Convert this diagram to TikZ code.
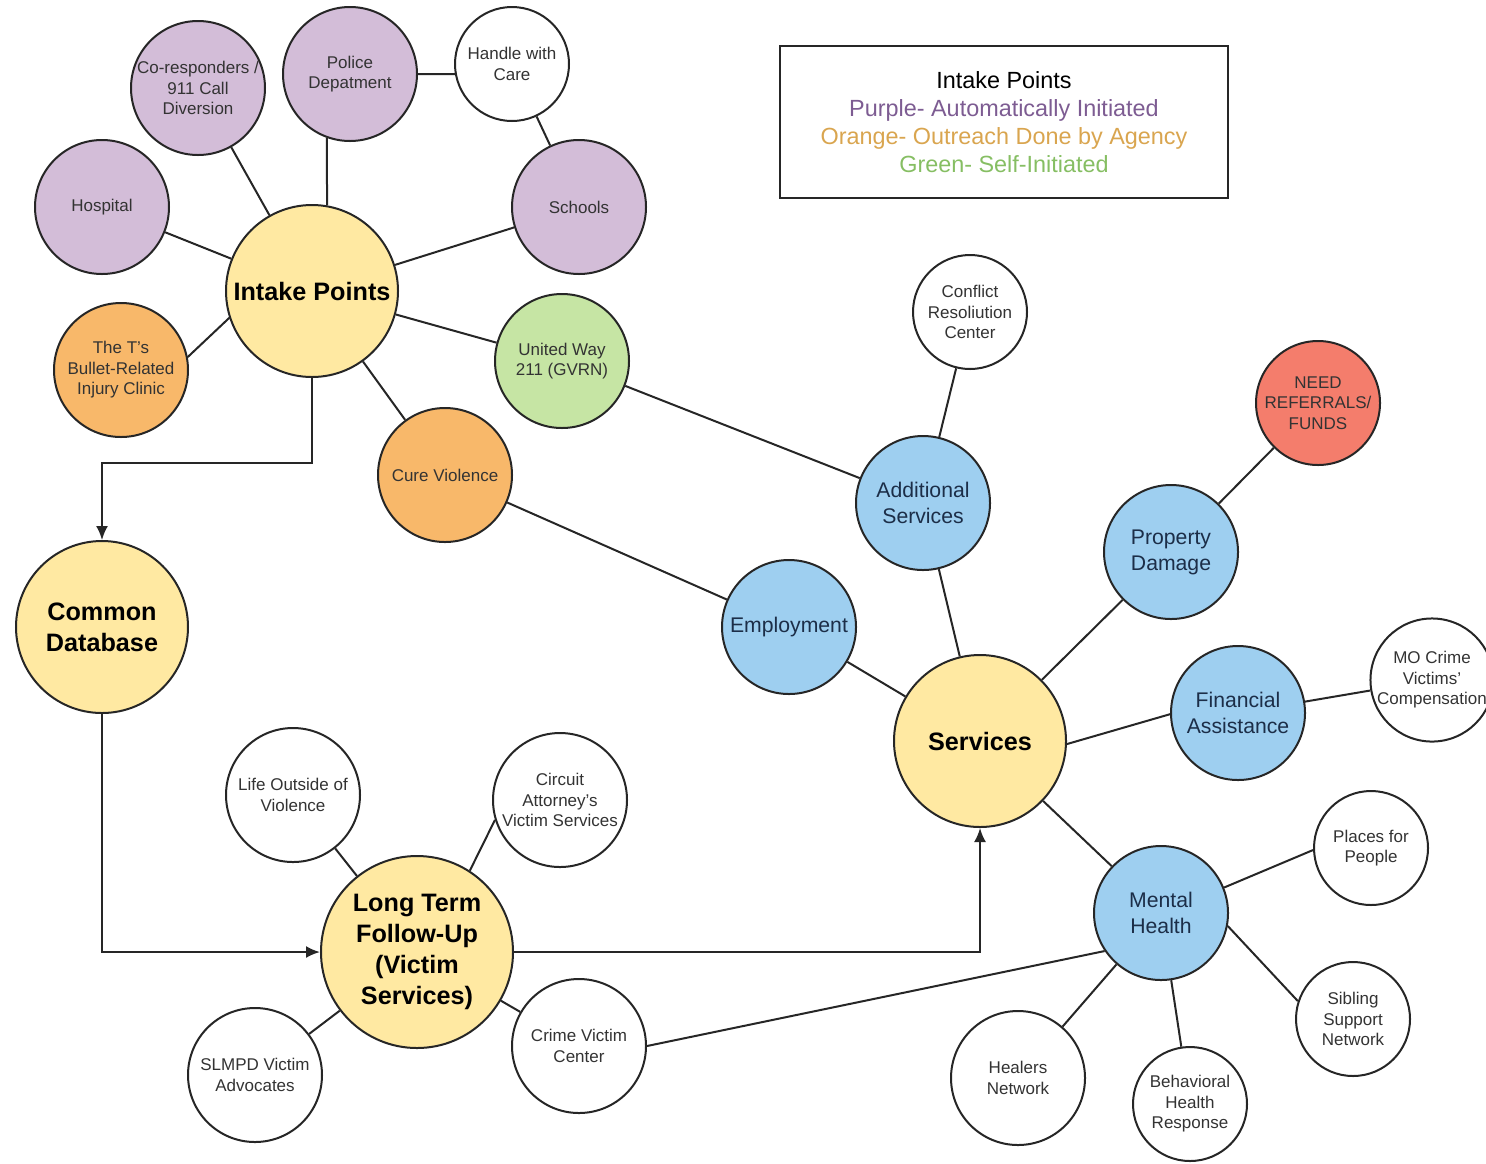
\documentclass[tikz,border=0pt]{standalone}
\usepackage{fontspec}
\setmainfont{Liberation Sans}
\usetikzlibrary{arrows.meta}
\definecolor{purpfill}{HTML}{D3BDD8}
\definecolor{yelfill}{HTML}{FFE9A2}
\definecolor{orngfill}{HTML}{F8B86A}
\definecolor{grnfill}{HTML}{C6E5A4}
\definecolor{blufill}{HTML}{9ECFF0}
\definecolor{redfill}{HTML}{F47D6C}
\definecolor{navytext}{HTML}{1C2E48}
\definecolor{purptext}{HTML}{7D5C92}
\definecolor{orngtext}{HTML}{D9A54F}
\definecolor{grntext}{HTML}{86BE63}

\begin{document}
\begin{tikzpicture}[x=0.5pt,y=-0.5pt,
  bub/.style={circle,draw=black!85,line width=1pt,align=center,inner sep=0pt,
    text=black!80,font=\fontsize{8.5}{10.25}\selectfont},
  sml/.style={bub,minimum size=67pt},
  tny/.style={bub,minimum size=57pt,fill=white},
  purp/.style={sml,fill=purpfill},
  orng/.style={sml,fill=orngfill},
  grn/.style={sml,fill=grnfill},
  wht/.style={sml,fill=white},
  redbub/.style={bub,minimum size=62pt,fill=redfill},
  med/.style={bub,minimum size=67pt,fill=blufill,text=navytext,
    font=\fontsize{10.6}{13}\selectfont},
  hub/.style={bub,minimum size=86pt,fill=yelfill,text=black,
    font=\fontsize{12.6}{15.5}\selectfont\bfseries},
  link/.style={line width=1pt,black!85},
  flow/.style={link,-{Latex[length=7pt,width=6pt]}}]
\useasboundingbox (0,0) rectangle (1486,1163);

% intake side
\node[hub] (intake) at (312,291) {Intake Points};
\node[purp] (coresp) at (198,88) {Co-responders /\\911 Call\\Diversion};
\node[purp] (police) at (350,74) {Police\\Depatment};
\node[tny] (hwc) at (512,64) {Handle with\\Care};
\node[purp] (hosp) at (102,207) {Hospital};
\node[purp] (schools) at (579,207) {Schools};
\node[orng] (tclinic) at (121,370) {The T's\\Bullet-Related\\Injury Clinic};
\node[grn] (uway) at (562,361) {United Way\\211 (GVRN)};
\node[orng] (cure) at (445,475) {Cure Violence};

% legend
\node[draw=black!85,line width=1pt,minimum width=224pt,minimum height=76pt,
  align=center,font=\fontsize{11.7}{14}\selectfont] (key) at (1004,122)
  {Intake Points\\
   \textcolor{purptext}{Purple- Automatically Initiated}\\
   \textcolor{orngtext}{Orange- Outreach Done by Agency}\\
   \textcolor{grntext}{Green- Self-Initiated}};

% services side
\node[hub] (serv) at (980,741) {Services};
\node[tny] (conflict) at (970,312) {Conflict\\Resoliution\\Center};
\node[med] (addl) at (923,503) {Additional\\Services};
\node[redbub] (need) at (1318,403) {NEED\\REFERRALS/\\FUNDS};
\node[med] (prop) at (1171,552) {Property\\Damage};
\node[med] (employ) at (789,627) {Employment};
\node[med] (fin) at (1238,713) {Financial\\Assistance};
\node[tny] (mocv) at (1432,680) {MO Crime\\Victims'\\Compensation};
\node[med] (mental) at (1161,913) {Mental\\Health};
\node[tny] (places) at (1371,848) {Places for\\People};
\node[tny] (sibling) at (1353,1019) {Sibling\\Support\\Network};
\node[wht] (healers) at (1018,1078) {Healers\\Network};
\node[tny] (bhr) at (1190,1104) {Behavioral\\Health\\Response};

% database and follow-up
\node[hub] (cdb) at (102,627) {Common\\Database};
\node[hub,minimum size=96pt] (ltf) at (417,952) {Long Term\\Follow-Up\\(Victim\\Services)};
\node[wht] (life) at (293,795) {Life Outside of\\Violence};
\node[wht] (circuit) at (560,800) {Circuit\\Attorney's\\Victim Services};
\node[wht] (slmpd) at (255,1075) {SLMPD Victim\\Advocates};
\node[wht] (cvc) at (579,1046) {Crime Victim\\Center};

% spokes
\foreach \n in {coresp,hosp,schools,uway,cure}
  \draw[link] (intake) -- (\n);
\draw[link] (intake.80) -- (police.250);
\draw[link] (intake.198) -- (tclinic.11);
\draw[link] (police.east) -- (hwc.190);
\draw[link] (hwc) -- (schools);
\draw[link] (uway) -- (addl);
\draw[link] (cure) -- (employ);
\draw[link] (conflict) -- (addl);
\draw[link] (need) -- (prop);
\draw[link] (mocv) -- (fin);
\foreach \n in {addl,employ,prop,mental}
  \draw[link] (serv) -- (\n);
\draw[link] (serv.-2) -- (fin.181);
\foreach \n in {bhr,healers}
  \draw[link] (mental) -- (\n);
\draw[link] (mental.22) -- (places.182);
\draw[link] (mental.-11) -- (sibling.162);
\draw[link] (cvc.east) -- (mental.214);
\foreach \n in {life,slmpd,cvc}
  \draw[link] (ltf) -- (\n);
\draw[link] (ltf.57) -- (circuit.197);

% flow arrows
\draw[flow] (intake.south) -- ++(0,85) -| (cdb.north);
\draw[flow] (cdb.south) |- (ltf.west);
\draw[flow] (ltf.east) -| (serv.south);
\end{tikzpicture}
\end{document}
